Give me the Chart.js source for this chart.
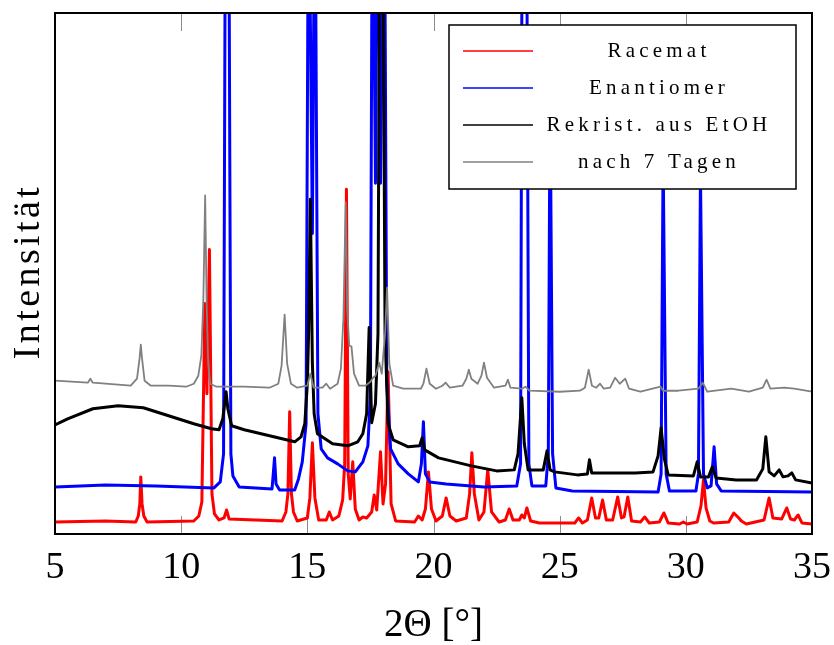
<!DOCTYPE html>
<html>
<head>
<meta charset="utf-8">
<title>XRD</title>
<script src="https://cdn.jsdelivr.net/npm/chart.js@4.4.1/dist/chart.umd.min.js"></script>
<style>
  html, body { margin: 0; padding: 0; background: #fff; }
</style>
</head>
<body>
<canvas id="xrd" width="834" height="645"></canvas>
<script>
// Diffractograms, [2Theta, intensity] pairs (arbitrary units, offset per sample)
const racemat = [
  [5,12],[7,13],[8.2,12],[8.3,18],[8.36,30],[8.4,57],[8.45,30],[8.52,18],[8.65,12],
  [10.5,13],[10.7,18],[10.82,32],[10.94,230],[11.02,140],[11.12,284],[11.22,40],[11.32,20],[11.5,14],
  [11.7,16],[11.8,24],[11.9,15],
  [14.0,13],[14.15,22],[14.23,40],[14.3,122],[14.37,40],[14.45,22],[14.6,13],
  [15.0,16],[15.1,36],[15.2,91],[15.3,36],[15.45,14],
  [15.75,14],[15.87,22],[16.0,14],
  [16.25,18],[16.4,34],[16.48,70],[16.55,344],[16.62,60],[16.7,35],[16.8,72],[16.9,25],
  [17.05,14],[17.2,17],[17.35,16],[17.55,22],[17.65,39],[17.75,24],[17.9,82],[18.0,30],
  [18.1,50],[18.2,162],[18.32,30],[18.5,13],
  [19.25,12],[19.4,18],[19.55,14],[19.68,25],[19.8,62],[19.92,25],[20.1,13],
  [20.35,18],[20.5,36],[20.65,18],[20.9,13],
  [21.3,16],[21.43,40],[21.52,81],[21.62,40],[21.8,14],[22.0,22],[22.15,64],[22.3,22],[22.6,12],
  [22.85,14],[23.0,25],[23.15,14],[23.4,14],[23.5,19],[23.6,16],[23.7,26],[23.85,13],
  [24.2,11],[25.6,11],[25.75,16],[25.9,11],
  [26.1,14],[26.27,36],[26.42,16],[26.55,16],[26.7,34],[26.85,14],[27.1,14],[27.3,37],
  [27.45,16],[27.55,17],[27.7,37],[27.85,13],[28.2,12],[28.37,17],[28.55,11],
  [28.95,12],[29.13,21],[29.3,11],[29.75,10],[29.9,12],[30.05,10],
  [30.45,12],[30.6,28],[30.7,54],[30.8,26],[30.95,13],[31.1,11],
  [31.7,12],[31.9,21],[32.1,16],[32.2,13],[32.4,10],
  [33.1,14],[33.3,36],[33.45,16],[33.8,15],[34.0,26],[34.15,15],[34.3,14],[34.45,19],[34.6,11],[35,10]
];

const enantiomer = [
  [5,47],[7,49],[9,48],[11.3,46],[11.55,52],[11.68,80],[11.76,700],[11.88,700],[11.97,80],
  [12.05,58],[12.3,47],[13.6,45],[13.65,60],[13.7,76],[13.76,50],[13.9,44],
  [14.5,44],[14.65,55],[14.8,72],[14.95,110],[15.05,700],[15.2,300],[15.3,700],
  [15.42,120],[15.55,85],[15.8,76],[16.2,70],[16.6,63],[16.9,62],[17.2,72],[17.4,88],
  [17.5,140],[17.58,700],[17.7,350],[17.78,700],[17.9,350],[18.05,700],[18.15,150],
  [18.3,85],[18.6,70],[19.0,60],[19.4,52],[19.52,70],[19.6,112],[19.68,60],[19.85,52],
  [20.5,50],[22.0,47],[23.3,48],[23.45,70],[23.52,700],[23.68,700],[23.78,70],[23.9,48],
  [24.45,48],[24.55,80],[24.62,450],[24.72,80],[24.85,46],[25.5,43],
  [28.9,42],[29.02,60],[29.1,380],[29.22,60],[29.35,43],
  [30.4,43],[30.5,60],[30.58,360],[30.7,60],[30.85,46],
  [31.0,48],[31.12,87],[31.22,50],[31.4,43],[35,42]
];

const rekristEtOH = [
  [5,109],[5.5,115],[6.5,125],[7.5,128],[8.5,126],[9.5,118],[10.5,110],[11.2,105],
  [11.5,104],[11.65,115],[11.78,142],[11.85,125],[12.0,108],[12.5,104],[13.5,98],
  [14.5,92],[14.75,97],[14.9,110],[15.0,150],[15.05,200],[15.12,334],[15.2,170],[15.27,120],
  [15.4,100],[16.0,90],[16.6,88],[17.0,92],[17.2,100],[17.35,120],[17.45,206],[17.55,111],
  [17.7,130],[17.8,200],[17.88,700],[17.98,700],[18.08,200],[18.2,110],[18.4,94],
  [19.0,87],[19.45,88],[19.55,96],[19.65,84],[20.2,76],[21.5,68],[22.5,63],
  [23.2,64],[23.35,80],[23.5,136],[23.6,90],[23.75,64],[24.35,64],[24.5,83],[24.62,64],
  [24.8,62],[25.7,59],[26.1,60],[26.18,74],[26.27,61],[27.0,61],[28.0,61],
  [28.7,62],[28.9,78],[29.02,106],[29.15,75],[29.3,59],[30.3,58],[30.45,72],[30.58,57],
  [30.9,57],[31.05,67],[31.2,56],[32.0,54],[32.8,54],[33.05,65],[33.17,97],[33.3,62],
  [33.5,58],[33.7,64],[33.85,57],[34.05,58],[34.2,61],[34.35,54],[35,51]
];

const nach7Tagen = [
  [5,153],[6.3,151],[6.4,155],[6.5,151],[8.0,148],[8.25,155],[8.35,175],[8.4,189],
  [8.45,175],[8.55,153],[8.8,148],[9.5,148],[10.2,147],[10.5,150],[10.68,158],[10.8,178],
  [10.88,235],[10.95,338],[11.01,230],[11.07,170],[11.15,150],[11.4,147],[12.5,147],
  [13.5,146],[13.85,150],[13.98,168],[14.1,219],[14.2,170],[14.35,150],[14.6,146],
  [15.0,148],[15.12,160],[15.25,146],[15.6,146],[15.75,150],[15.9,145],[16.2,150],
  [16.33,165],[16.43,215],[16.52,331],[16.58,225],[16.66,188],[16.75,187],[16.85,160],
  [17.05,148],[17.3,148],[17.5,152],[17.6,156],[17.7,158],[17.85,171],[17.95,160],
  [18.08,200],[18.16,246],[18.25,170],[18.4,148],[18.8,145],[19.5,145],[19.6,150],
  [19.72,165],[19.85,150],[20.1,145],[20.35,148],[20.48,151],[20.65,146],[21.15,148],
  [21.3,155],[21.4,164],[21.5,155],[21.75,150],[21.9,158],[22.0,171],[22.12,156],
  [22.4,146],[22.85,148],[22.95,154],[23.05,146],[23.5,145],[23.65,147],[23.8,143],
  [25.0,142],[25.8,143],[26.0,146],[26.15,164],[26.28,148],[26.45,146],[26.6,150],
  [26.75,145],[27.0,146],[27.2,156],[27.38,150],[27.6,155],[27.75,145],[28.2,142],
  [29.0,147],[29.1,143],[29.7,143],[30.5,145],[30.67,151],[30.85,142],[31.8,145],
  [32.5,142],[33.05,146],[33.2,154],[33.35,145],[33.9,146],[34.3,145],[35,142]
];

const seriesLabels = ['Racemat', 'Enantiomer', 'Rekrist. aus EtOH', 'nach 7 Tagen'];
const seriesColors = ['#ff0000', '#0000ff', '#000000', '#808080'];
const seriesWidths = [3, 3, 3, 1.8];
const xTickValues = [5, 10, 15, 20, 25, 30, 35];
const yTitle = 'Intensität';

const SERIF = "'Liberation Serif', 'DejaVu Serif', serif";

// inner tick marks, frame, y title and the boxed legend
const plotDecor = {
  id: 'plotDecor',
  beforeDatasetsDraw(chart) {
    const { ctx, chartArea: a, scales: { x } } = chart;
    ctx.save();
    ctx.strokeStyle = '#8c8c8c';
    ctx.lineWidth = 1;
    xTickValues.forEach(function (v) {
      const px = Math.round(x.getPixelForValue(v)) + 0.5;
      ctx.beginPath();
      ctx.moveTo(px, a.top); ctx.lineTo(px, a.top + 18);
      ctx.moveTo(px, a.bottom); ctx.lineTo(px, a.bottom - 18);
      ctx.stroke();
    });
    ctx.restore();
  },
  afterDraw(chart) {
    const { ctx, chartArea: a } = chart;
    ctx.save();
    ctx.strokeStyle = '#000';
    ctx.lineWidth = 2;
    ctx.strokeRect(a.left, a.top, a.right - a.left, a.bottom - a.top);

    // rotated axis title, spaced out a little
    ctx.save();
    ctx.translate(29, (a.top + a.bottom) / 2);
    ctx.rotate(-Math.PI / 2);
    ctx.font = '38px ' + SERIF;
    ctx.letterSpacing = '3.4px';
    ctx.fillStyle = '#000';
    ctx.textAlign = 'center';
    ctx.textBaseline = 'middle';
    ctx.fillText(yTitle, 2, 0);
    ctx.restore();

    // legend box
    const bx = 449, by = 25, bw = 347, bh = 164;
    ctx.fillStyle = '#fff';
    ctx.fillRect(bx, by, bw, bh);
    ctx.lineWidth = 1.5;
    ctx.strokeRect(bx, by, bw, bh);
    ctx.font = '21px ' + SERIF;
    ctx.letterSpacing = '4.2px';
    ctx.textAlign = 'center';
    ctx.textBaseline = 'middle';
    seriesLabels.forEach(function (lab, i) {
      const y = by + 26 + i * 37;
      ctx.strokeStyle = seriesColors[i];
      ctx.lineWidth = 1.5;
      ctx.beginPath();
      ctx.moveTo(bx + 14, y); ctx.lineTo(bx + 84, y);
      ctx.stroke();
      ctx.fillStyle = '#000';
      ctx.fillText(lab, bx + 210, y);
    });
    ctx.restore();
  }
};

const allSeries = [racemat, enantiomer, rekristEtOH, nach7Tagen];

new Chart(document.getElementById('xrd').getContext('2d'), {
  type: 'line',
  data: {
    datasets: allSeries.map(function (d, i) {
      return {
        label: seriesLabels[i],
        data: d,
        borderColor: seriesColors[i],
        borderWidth: seriesWidths[i],
        borderJoinStyle: 'round',
        pointRadius: 0,
        tension: 0,
        fill: false,
        order: 4 - i
      };
    })
  },
  options: {
    responsive: false,
    animation: false,
    layout: { padding: { top: 13, right: 19, left: 0, bottom: 0 } },
    plugins: { legend: { display: false }, tooltip: { enabled: false } },
    scales: {
      x: {
        type: 'linear',
        min: 5, max: 35,
        afterFit: function (s) { s.height = 111; },
        afterBuildTicks: function (s) { s.ticks = xTickValues.map(function (v) { return { value: v }; }); },
        grid: { display: false },
        border: { display: false },
        ticks: { color: '#000', padding: 3, font: { family: SERIF, size: 38 } },
        title: {
          display: true, text: '2Θ [°]', color: '#000',
          font: { family: SERIF, size: 39, lineHeight: 1 },
          padding: { top: 0, bottom: 0 }
        }
      },
      y: {
        min: 0, max: 520,
        afterFit: function (s) { s.width = 55; },
        grid: { display: false },
        border: { display: false },
        ticks: { display: false },
        title: { display: false }
      }
    }
  },
  plugins: [plotDecor]
});
</script>
</body>
</html>
